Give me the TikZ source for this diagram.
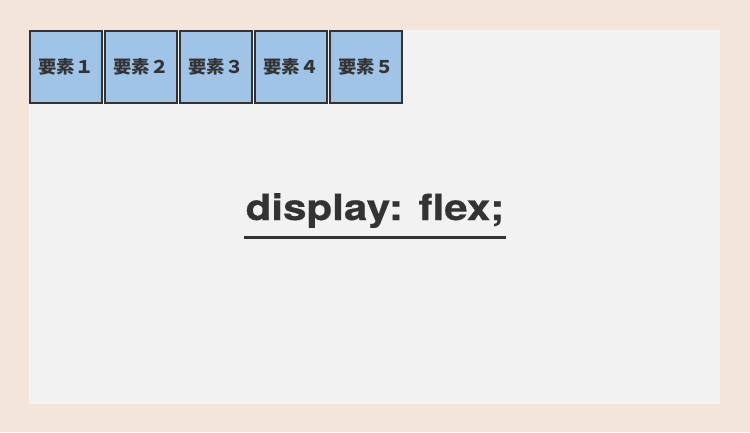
\documentclass[tikz,border=0pt]{standalone}
\usepackage{fontspec}
\setmainfont{TeX Gyre Heros}
\newfontfamily\widesans{TeX Gyre Heros}[FakeStretch=1.17,FakeBold=0.6]
\newfontfamily\cjk{Noto Sans CJK JP}[FakeStretch=1.05]
\definecolor{bgbeige}{HTML}{F3E5D9}
\definecolor{panel}{HTML}{F2F2F2}
\definecolor{boxfill}{HTML}{9FC4E8}
\definecolor{ink}{HTML}{333333}
\begin{document}
\begin{tikzpicture}[x=1pt,y=-1pt,
  itembox/.style={draw=ink,line width=2pt,fill=boxfill,minimum width=72pt,minimum height=72pt,inner sep=0pt,
    font=\cjk\bfseries\fontsize{17.5}{17.5}\selectfont,text=ink},
  title/.style={font=\widesans\bfseries\fontsize{36}{36}\selectfont,text=ink,inner sep=0pt}]
\useasboundingbox (0,0) rectangle (750,432);
\fill[bgbeige] (0,0) rectangle (750,432);
\fill[panel] (29,30) rectangle (720,404);
\node[itembox] (e1) at (66,67) {要素１};
\node[itembox] (e2) at (141,67) {要素２};
\node[itembox] (e3) at (216,67) {要素３};
\node[itembox] (e4) at (291,67) {要素４};
\node[itembox] (e5) at (366,67) {要素５};
\node[title,anchor=base] (t) at (375,220) {display: flex;};
\draw[ink,line width=3pt] (244,237.5) -- (506,237.5);
\end{tikzpicture}
\end{document}
